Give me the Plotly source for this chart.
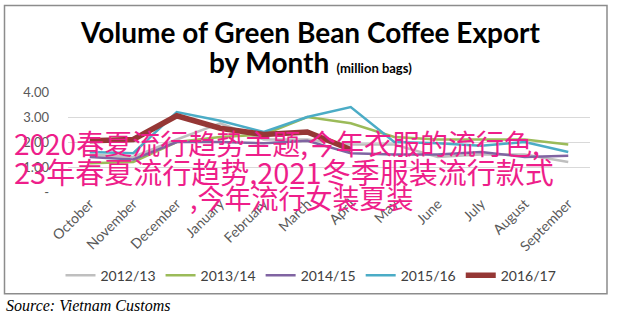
import plotly.graph_objects as go

months = ["October", "November", "December", "January", "February", "March",
          "April", "May", "June", "July", "August", "September"]
s2012_13 = [1.50, 1.40, 2.10, 2.75, 2.10, 2.10, 1.90, 1.90, 1.40, 1.50, 1.50, 1.20]
s2013_14 = [1.15, 1.20, 2.00, 2.20, 2.30, 3.00, 2.75, 2.20, 2.10, 2.10, 2.10, 1.90]
s2014_15 = [1.40, 1.30, 2.00, 2.00, 1.95, 2.05, 1.55, 1.50, 1.50, 1.60, 1.40, 1.45]
s2015_16 = [1.60, 1.55, 3.20, 2.85, 2.40, 3.00, 3.40, 2.00, 1.95, 1.85, 2.00, 1.60]
s2016_17 = [2.05, 2.10, 3.05, 2.55, 2.30, 2.40, 1.70]
series_names = ["2012/13", "2013/14", "2014/15", "2015/16", "2016/17"]
y_ticks = [0, 1, 2, 3, 4]
y_ticklabels = ["-", "1.00", "2.00", "3.00", "4.00"]

W, H = 643, 331
L, R, T, B = 68, 590, 91.7, 192

def px(x):
    return (x - L) / (R - L)

def py(y):
    return (B - y) / (B - T)

colors = ["#BFBFBF", "#9BBB59", "#8064A2", "#4BACC6", "#953735"]
widths = [2.5, 2.5, 2.5, 2.5, 5.5]
data = [s2012_13, s2013_14, s2014_15, s2015_16, s2016_17]

fig = go.Figure()
for name, vals, c, w in zip(series_names, data, colors, widths):
    fig.add_trace(go.Scatter(x=months[:len(vals)], y=vals, mode="lines", name=name,
                             line=dict(color=c, width=w)))

fig.update_layout(
    width=W, height=H,
    margin=dict(l=L, r=W - R, t=T, b=H - B),
    paper_bgcolor="white", plot_bgcolor="white",
    font=dict(family="Lato, Open Sans, sans-serif", color="#595959"),
    showlegend=True,
    legend=dict(orientation="h", x=px(311), y=py(276), xanchor="center", yanchor="middle",
                font=dict(size=14, color="#404040"), itemwidth=30, tracegroupgap=0),
    xaxis=dict(type="category", categoryorder="array", categoryarray=months,
               range=[-0.5, 11.5], showgrid=False, showline=False, ticks="",
               tickangle=-45, tickfont=dict(size=14, color="#595959"), fixedrange=True),
    yaxis=dict(range=[0, 4], tickvals=y_ticks, ticktext=y_ticklabels,
               showgrid=True, gridcolor="#D9D9D9", gridwidth=1, zeroline=False,
               showline=False, ticks="", ticklabelstandoff=18,
               tickfont=dict(size=13, color="#595959"), fixedrange=True),
)

# chart border
fig.add_shape(type="rect", xref="paper", yref="paper",
              x0=px(4.5), x1=px(607), y0=py(294), y1=py(5),
              line=dict(color="#8C8C8C", width=1.5), fillcolor="rgba(0,0,0,0)", layer="below")

# title
fig.add_annotation(xref="paper", yref="paper", x=px(310), y=py(32), showarrow=False,
                   text="<b>Volume of Green Bean Coffee Export</b>",
                   font=dict(size=28, color="#000000", family="Lato"), xanchor="center", yanchor="middle")
fig.add_annotation(xref="paper", yref="paper", x=px(310), y=py(62), showarrow=False,
                   text="<b>by Month</b> <b><span style='font-size:13px'>(million bags)</span></b>",
                   font=dict(size=28, color="#000000", family="Lato"), xanchor="center", yanchor="middle")

# source
fig.add_annotation(xref="paper", yref="paper", x=px(4), y=py(306), showarrow=False,
                   text="<i>Source: Vietnam Customs</i>",
                   font=dict(size=16, color="#000000", family="Liberation Serif"),
                   xanchor="left", yanchor="middle")

# overlay text
pink = "#EE1E8A"
wm = ["2020春夏流行趋势主题,今年衣服的流行色,", "23年春夏流行趋势,2021冬季服装流行款式", ",今年流行女装夏装"]
fig.add_annotation(xref="paper", yref="paper", x=px(12), y=py(143), showarrow=False,
                   text=wm[0], font=dict(size=28, color=pink, family="Noto Sans CJK SC"),
                   xanchor="left", yanchor="middle")
fig.add_annotation(xref="paper", yref="paper", x=px(12), y=py(171), showarrow=False,
                   text=wm[1], font=dict(size=29, color=pink, family="Noto Sans CJK SC"),
                   xanchor="left", yanchor="middle")
fig.add_annotation(xref="paper", yref="paper", x=px(302), y=py(198), showarrow=False,
                   text=wm[2], font=dict(size=27, color=pink, family="Noto Sans CJK SC"),
                   xanchor="center", yanchor="middle")

fig.write_html("out.html")
